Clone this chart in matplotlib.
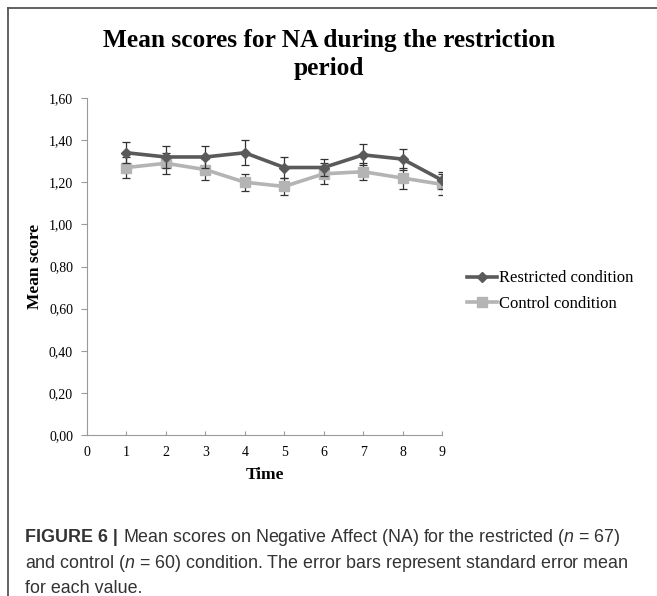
import matplotlib
matplotlib.use("Agg")
import matplotlib.pyplot as plt
from matplotlib.lines import Line2D

# data
time_points = [1, 2, 3, 4, 5, 6, 7, 8, 9]
restricted_mean = [1.34, 1.32, 1.32, 1.34, 1.27, 1.27, 1.33, 1.31, 1.21]
restricted_se = [0.05, 0.05, 0.05, 0.06, 0.05, 0.04, 0.05, 0.05, 0.04]
control_mean = [1.27, 1.29, 1.26, 1.20, 1.18, 1.24, 1.25, 1.22, 1.19]
control_se = [0.05, 0.05, 0.05, 0.04, 0.04, 0.05, 0.04, 0.05, 0.05]
y_ticks = [0.0, 0.2, 0.4, 0.6, 0.8, 1.0, 1.2, 1.4, 1.6]
x_ticks = [0, 1, 2, 3, 4, 5, 6, 7, 8, 9]

W, H = 657, 596
serif = ["Liberation Serif", "DejaVu Serif"]
plt.rcParams['mathtext.fontset'] = 'custom'
plt.rcParams['mathtext.it'] = 'Liberation Sans:italic'
plt.rcParams['mathtext.rm'] = 'Liberation Sans'

fig = plt.figure(figsize=(W / 100, H / 100), dpi=100)

# frame lines around the figure panel (left and top)
fig.add_artist(Line2D([8 / W, 8 / W], [0, 1 - 8 / H], color="#555555", lw=1.3))
fig.add_artist(Line2D([8 / W, 1], [1 - 8 / H, 1 - 8 / H], color="#555555", lw=1.3))

ax = fig.add_axes([87 / W, 1 - 435 / H, (442 - 87) / W, (435 - 98) / H])

dark = "#5a5a5a"
light = "#b4b4b4"
ax.errorbar(time_points, restricted_mean, yerr=restricted_se, color=dark, lw=2.6,
            marker="D", markersize=5.5, ecolor="#333333", elinewidth=0.9,
            capsize=3, capthick=0.9, label="Restricted condition", zorder=3)
ax.errorbar(time_points, control_mean, yerr=control_se, color=light, lw=2.6,
            marker="s", markersize=7.5, ecolor="#333333", elinewidth=0.9,
            capsize=3, capthick=0.9, label="Control condition", zorder=2)

ax.set_xlim(0, 9)
ax.set_ylim(0, 1.6)
ax.set_xticks(x_ticks)
ax.set_yticks(y_ticks)
ax.set_xticklabels([str(t) for t in x_ticks], fontfamily=serif, fontsize=10)
ax.set_yticklabels([f"{v:.2f}".replace(".", ",") for v in y_ticks],
                   fontfamily=serif, fontsize=10)
ax.spines["top"].set_visible(False)
ax.spines["right"].set_visible(False)
for s in ("left", "bottom"):
    ax.spines[s].set_color("#9a9a9a")
ax.tick_params(axis="y", direction="out", length=4, color="#9a9a9a", pad=6)
ax.tick_params(axis="x", direction="in", length=3, color="#9a9a9a", pad=8)

ax.set_xlabel("Time", fontfamily=serif, fontsize=12.5, fontweight="bold", labelpad=6)
ax.set_ylabel("Mean score", fontfamily=serif, fontsize=12.5, fontweight="bold", labelpad=4)

# title
fig.text(329 / W, 1 - 40 / H, "Mean scores for NA during the restriction",
         ha="center", va="center", fontfamily=serif, fontsize=18.3, fontweight="bold")
fig.text(329 / W, 1 - 69 / H, "period",
         ha="center", va="center", fontfamily=serif, fontsize=18.3, fontweight="bold")

# legend
handles, labels = ax.get_legend_handles_labels()
handles = [h[0] for h in handles]
fig.legend(handles, labels, loc="center left", bbox_to_anchor=(467 / W, 1 - 291 / H),
           bbox_transform=fig.transFigure, frameon=False, borderpad=0,
           borderaxespad=0, handlelength=1.8, handletextpad=0.1, labelspacing=0.55,
           prop={"family": serif, "size": 12})

# caption
cap_color = "#333333"
sans = ["Liberation Sans", "DejaVu Sans"]
cap_size = 12.9
x0 = 25 / W
bold = fig.text(x0, 1 - 542 / H, "FIGURE 6 | ", fontfamily=sans, fontsize=cap_size,
                fontweight="bold", color=cap_color, va="baseline")
fig.canvas.draw()
bw = bold.get_window_extent(fig.canvas.get_renderer()).width
fig.text(x0 + bw / W, 1 - 542 / H,
         r"Mean scores on Negative Affect (NA) for the restricted ($n$ = 67)",
         fontfamily=sans, fontsize=cap_size, color=cap_color, va="baseline")
fig.text(x0, 1 - 568 / H,
         r"and control ($n$ = 60) condition. The error bars represent standard error mean",
         fontfamily=sans, fontsize=cap_size, color=cap_color, va="baseline")
fig.text(x0, 1 - 593 / H, "for each value.",
         fontfamily=sans, fontsize=cap_size, color=cap_color, va="baseline")

fig.savefig("out.png", dpi=100)
